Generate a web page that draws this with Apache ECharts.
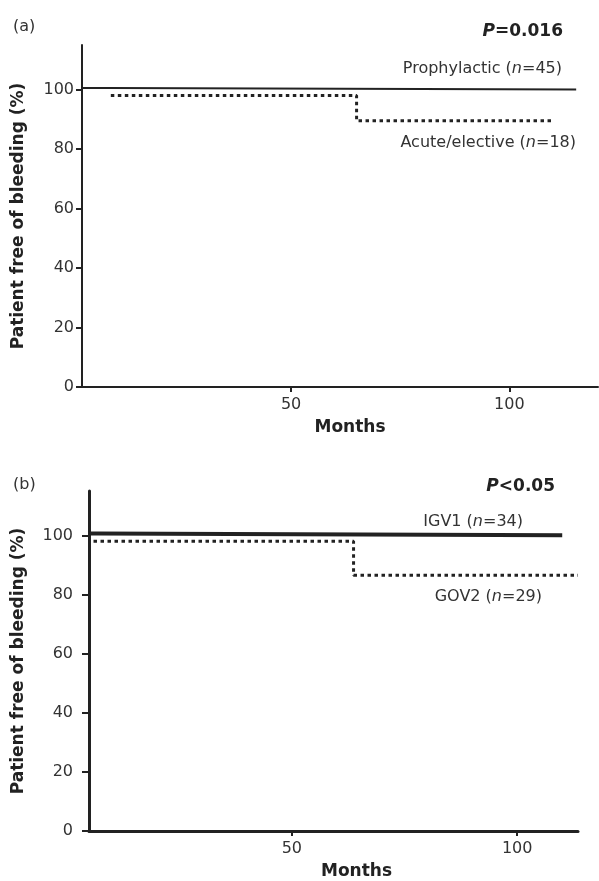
<!DOCTYPE html>
<html>
<head>
<meta charset="utf-8">
<script src="https://cdn.jsdelivr.net/npm/echarts@6/dist/echarts.min.js"></script>
<style>
  html, body { margin: 0; padding: 0; background: #fff; }
  #chart { width: 599px; height: 881px; }
</style>
</head>
<body>
<div id="chart"></div>
<script>
// panel (a)
const monthsProph = [2.1, 8.7, 115.3];
const pctProph = [100.5, 100, 100];
const monthsAcute = [8.7, 65, 110.3];
const pctAcute = [98, 89.5, 89.5];
// panel (b)
const monthsIgv1 = [5.1, 7, 110];
const pctIgv1 = [100.6, 100, 100];
const monthsGov2 = [6, 63.7, 113.5];
const pctGov2 = [98, 86.5, 86.5];

const yTicks = [0, 20, 40, 60, 80, 100];
const xTicks = [50, 100];

const FONT = 'DejaVu Sans';
const INK = '#222';

function pairs(xs, ys) {
  return xs.map((x, i) => [x, ys[i]]);
}

function xAxisFor(idx, min, max, w, shift) {
  return {
    type: 'value', gridIndex: idx, min: min, max: max,
    name: 'Months', nameLocation: 'middle', nameGap: 32,
    nameTextStyle: { fontFamily: FONT, fontSize: 17, fontWeight: 'bold', color: INK, padding: [0, 0, 0, shift] },
    axisLine: { lineStyle: { color: INK, width: w } },
    axisTick: { customValues: xTicks, length: 5, lineStyle: { color: INK, width: 2 } },
    axisLabel: { customValues: xTicks, margin: 10, fontFamily: FONT, fontSize: 16, color: '#333' },
    splitLine: { show: false }
  };
}

function yAxisFor(idx, w, tickLen, margin, gap) {
  return {
    type: 'value', gridIndex: idx, min: 0, max: 115,
    name: 'Patient free of bleeding (%)', nameLocation: 'middle', nameRotate: 90, nameGap: gap,
    nameTextStyle: { fontFamily: FONT, fontSize: 17, fontWeight: 'bold', color: INK },
    axisLine: { show: true, lineStyle: { color: INK, width: w } },
    axisTick: { show: true, customValues: yTicks, length: tickLen, lineStyle: { color: INK, width: 2 } },
    axisLabel: { customValues: yTicks, margin: margin, fontFamily: FONT, fontSize: 16, color: '#333' },
    splitLine: { show: false }
  };
}

function solid(idx, data, w) {
  return {
    type: 'line', xAxisIndex: idx, yAxisIndex: idx, step: 'end', data: data,
    symbol: 'none', lineStyle: { color: INK, width: w }, silent: true
  };
}

function dotted(idx, data) {
  return {
    type: 'line', xAxisIndex: idx, yAxisIndex: idx, step: 'end', data: data,
    symbol: 'none', lineStyle: { color: INK, width: 3, type: [3.5, 3.5] }, silent: true
  };
}

function label(x, y, pre, n, post, align) {
  return {
    type: 'text', x: x, y: y,
    style: {
      text: '{t|' + pre + '}{i|' + n + '}{t|' + post + '}',
      align: align || 'right', verticalAlign: 'middle',
      rich: {
        t: { fontFamily: FONT, fontSize: 16, fill: '#333' },
        i: { fontFamily: FONT, fontSize: 16, fontStyle: 'italic', fill: '#333' }
      }
    }
  };
}

function pLabel(x, y, rest) {
  return {
    type: 'text', x: x, y: y,
    style: {
      text: '{i|P}{b|' + rest + '}',
      align: 'right', verticalAlign: 'middle',
      rich: {
        i: { fontFamily: FONT, fontSize: 17, fontStyle: 'italic', fontWeight: 'bold', fill: INK },
        b: { fontFamily: FONT, fontSize: 17, fontWeight: 'bold', fill: INK }
      }
    }
  };
}

const chart = echarts.init(document.getElementById('chart'));
chart.setOption({
  backgroundColor: '#fff',
  animation: false,
  grid: [
    { left: 82, top: 45, width: 516, height: 342 },
    { left: 89, top: 491, width: 489, height: 341 }
  ],
  xAxis: [
    xAxisFor(0, 2.1, 120.3, 2, 20),
    xAxisFor(1, 5, 113.5, 3, 46)
  ],
  yAxis: [
    yAxisFor(0, 2, 6, 8, 55),
    yAxisFor(1, 3, 7, 16, 62)
  ],
  series: [
    solid(0, pairs(monthsProph, pctProph), 2),
    dotted(0, pairs(monthsAcute, pctAcute)),
    solid(1, pairs(monthsIgv1, pctIgv1), 4),
    dotted(1, pairs(monthsGov2, pctGov2))
  ],
  graphic: [
    { type: 'text', x: 13, y: 27, style: { text: '(a)', fontFamily: FONT, fontSize: 16, fill: '#333', verticalAlign: 'middle' } },
    pLabel(563, 32, '=0.016'),
    label(562, 69, 'Prophylactic (', 'n', '=45)'),
    label(576, 143, 'Acute/elective (', 'n', '=18)'),
    { type: 'text', x: 13, y: 485, style: { text: '(b)', fontFamily: FONT, fontSize: 16, fill: '#333', verticalAlign: 'middle' } },
    pLabel(555, 487, '<0.05'),
    label(523, 522, 'IGV1 (', 'n', '=34)'),
    label(542, 597, 'GOV2 (', 'n', '=29)')
  ]
});
</script>
</body>
</html>
